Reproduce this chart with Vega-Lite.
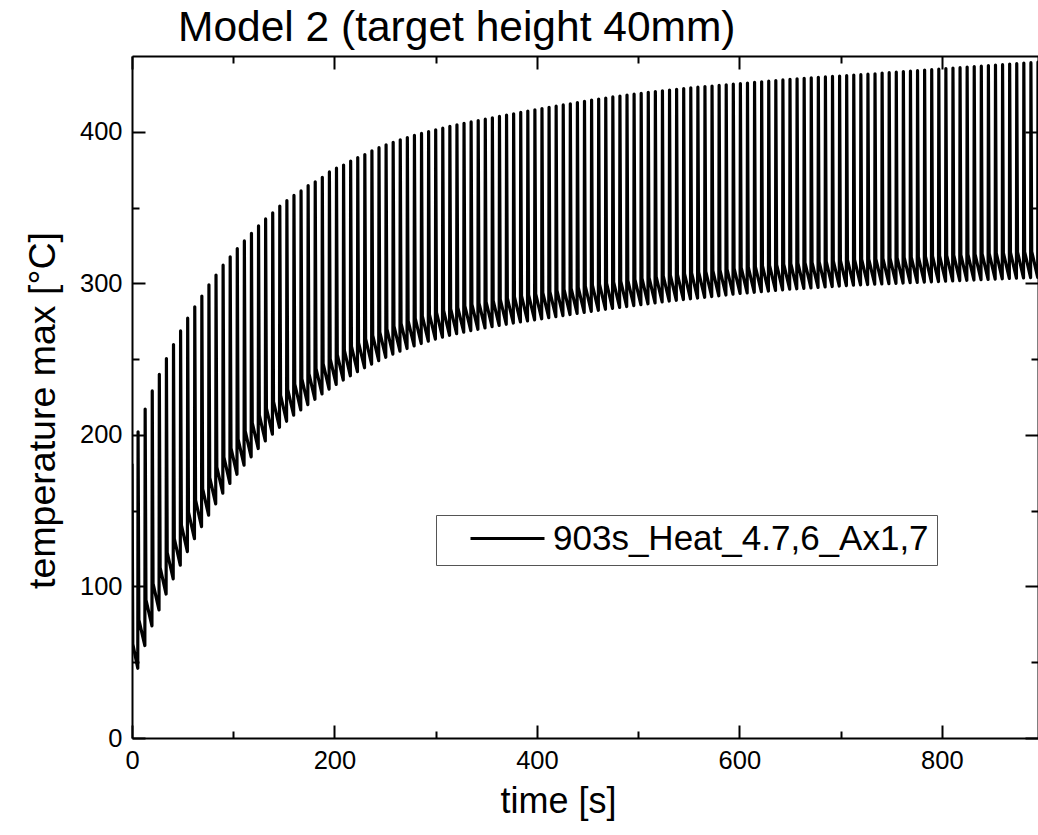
{
"$schema":"https://vega.github.io/schema/vega-lite/v6.json",
"width":906,"height":682,
"autosize":{"type":"none"},
"padding":{"left":132,"top":56,"right":0,"bottom":97},
"background":"white",
"title":{"text":"Model 2 (target height 40mm)","anchor":"start","frame":"group","dx":46,"dy":42,"fontSize":42.5,"font":"Liberation Sans","fontWeight":"normal","color":"black","offset":14,"baseline":"alphabetic"},
"config":{"font":"Liberation Sans","view":{"stroke":null},
"axis":{"grid":false,"domainColor":"black","domainWidth":2,"tickColor":"black","tickWidth":2,"labelColor":"black","titleColor":"black","titleFontWeight":"normal","labelFont":"Liberation Sans","titleFont":"Liberation Sans","labelFlush":false,"labelOverlap":false}},
"data":{"values":[
{"t":0,"v":181},{"t":0.8,"v":62},
{"t":5.7,"v":46},{"t":6,"v":202},{"t":6.8,"v":77.9},
{"t":12.7,"v":61},{"t":13,"v":217},{"t":13.8,"v":91.2},
{"t":19.7,"v":74},{"t":20,"v":229},{"t":20.8,"v":101.8},
{"t":26.7,"v":84.5},{"t":27,"v":240},{"t":27.8,"v":112.4},
{"t":33.7,"v":95},{"t":34,"v":250.4},{"t":34.8,"v":122.4},
{"t":40.7,"v":105},{"t":41,"v":259.6},{"t":41.8,"v":131.5},
{"t":47.7,"v":114},{"t":48,"v":268.6},{"t":48.8,"v":140.5},
{"t":54.7,"v":123},{"t":55,"v":277},{"t":55.8,"v":149},
{"t":61.7,"v":131.5},{"t":62,"v":284.5},{"t":62.8,"v":156.9},
{"t":68.7,"v":139.5},{"t":69,"v":291.6},{"t":69.8,"v":164.4},
{"t":75.7,"v":147},{"t":76,"v":299},{"t":76.8,"v":171.8},
{"t":82.7,"v":154.5},{"t":83,"v":305.5},{"t":83.8,"v":178.8},
{"t":89.7,"v":161.5},{"t":90,"v":312},{"t":90.8,"v":185.3},
{"t":96.7,"v":168},{"t":97,"v":317.5},{"t":97.8,"v":191.2},
{"t":103.7,"v":174},{"t":104,"v":323},{"t":104.8,"v":197.2},
{"t":110.7,"v":180},{"t":111,"v":328},{"t":111.8,"v":202.6},
{"t":117.7,"v":185.5},{"t":118,"v":333},{"t":118.8,"v":208},
{"t":124.7,"v":191},{"t":125,"v":338},{"t":125.8,"v":213},
{"t":131.7,"v":196},{"t":132,"v":342.5},{"t":132.8,"v":217.5},
{"t":138.7,"v":200.5},{"t":139,"v":346.5},{"t":139.8,"v":222},
{"t":145.7,"v":205},{"t":146,"v":351},{"t":146.8,"v":226},
{"t":152.7,"v":209},{"t":153,"v":354.6},{"t":153.8,"v":230},
{"t":159.7,"v":213},{"t":160,"v":358},{"t":160.8,"v":233.5},
{"t":166.7,"v":216.5},{"t":167,"v":361},{"t":167.8,"v":236.9},
{"t":173.7,"v":220},{"t":174,"v":364.5},{"t":174.8,"v":240.4},
{"t":180.7,"v":223.5},{"t":181,"v":367},{"t":181.8,"v":243.8},
{"t":187.7,"v":227},{"t":188,"v":370},{"t":188.8,"v":247},
{"t":194.7,"v":230.2},{"t":195,"v":373.5},{"t":195.8,"v":250.1},
{"t":201.7,"v":233.3},{"t":202,"v":376},{"t":202.8,"v":253},
{"t":208.7,"v":236.2},{"t":209,"v":378},{"t":209.8,"v":255.7},
{"t":215.7,"v":239},{"t":216,"v":380.7},{"t":216.8,"v":258.4},
{"t":222.7,"v":241.7},{"t":223,"v":383},{"t":223.8,"v":260.9},
{"t":229.7,"v":244.3},{"t":230,"v":385},{"t":230.8,"v":263.3},
{"t":236.7,"v":246.7},{"t":237,"v":387.4},{"t":237.8,"v":265.6},
{"t":243.7,"v":249},{"t":244,"v":389.5},{"t":244.8,"v":267.8},
{"t":250.7,"v":251.2},{"t":251,"v":391.4},{"t":251.8,"v":269.9},
{"t":257.7,"v":253.3},{"t":258,"v":393.1},{"t":258.8,"v":271.7},
{"t":264.7,"v":255.2},{"t":265,"v":394.7},{"t":265.8,"v":273.5},
{"t":271.7,"v":257},{"t":272,"v":396.2},{"t":272.8,"v":275.2},
{"t":278.7,"v":258.7},{"t":279,"v":397.6},{"t":279.8,"v":276.8},
{"t":285.7,"v":260.3},{"t":286,"v":398.9},{"t":286.8,"v":278.3},
{"t":292.7,"v":261.8},{"t":293,"v":400.1},{"t":293.8,"v":279.6},
{"t":299.7,"v":263.2},{"t":300,"v":401.3},{"t":300.8,"v":280.9},
{"t":306.7,"v":264.5},{"t":307,"v":402.4},{"t":307.8,"v":282.1},
{"t":313.7,"v":265.7},{"t":314,"v":403.6},{"t":314.8,"v":283.2},
{"t":320.7,"v":266.8},{"t":321,"v":404.6},{"t":321.8,"v":284.2},
{"t":327.7,"v":267.8},{"t":328,"v":405.6},{"t":328.8,"v":285.2},
{"t":334.7,"v":268.8},{"t":335,"v":406.5},{"t":335.8,"v":286.1},
{"t":341.7,"v":269.7},{"t":342,"v":407.4},{"t":342.8,"v":287},
{"t":348.7,"v":270.6},{"t":349,"v":408.3},{"t":349.8,"v":287.8},
{"t":355.7,"v":271.4},{"t":356,"v":409.2},{"t":356.8,"v":288.6},
{"t":362.7,"v":272.2},{"t":363,"v":410.1},{"t":363.8,"v":289.5},
{"t":369.7,"v":273},{"t":370,"v":411},{"t":370.8,"v":290.3},
{"t":376.7,"v":273.8},{"t":377,"v":411.9},{"t":377.8,"v":291},
{"t":383.7,"v":274.5},{"t":384,"v":412.8},{"t":384.8,"v":291.7},
{"t":390.7,"v":275.2},{"t":391,"v":413.7},{"t":391.8,"v":292.4},
{"t":397.7,"v":275.9},{"t":398,"v":414.5},{"t":398.8,"v":293.1},
{"t":404.7,"v":276.6},{"t":405,"v":415.3},{"t":405.8,"v":293.9},
{"t":411.7,"v":277.3},{"t":412,"v":416.1},{"t":412.8,"v":294.6},
{"t":418.7,"v":278},{"t":419,"v":416.9},{"t":419.8,"v":295.3},
{"t":425.7,"v":278.7},{"t":426,"v":417.7},{"t":426.8,"v":296},
{"t":432.7,"v":279.4},{"t":433,"v":418.5},{"t":433.8,"v":296.7},
{"t":439.7,"v":280.1},{"t":440,"v":419.3},{"t":440.8,"v":297.4},
{"t":446.7,"v":280.8},{"t":447,"v":420.1},{"t":447.8,"v":298.1},
{"t":453.7,"v":281.5},{"t":454,"v":420.9},{"t":454.8,"v":298.8},
{"t":460.7,"v":282.2},{"t":461,"v":421.6},{"t":461.8,"v":299.5},
{"t":467.7,"v":282.9},{"t":468,"v":422.3},{"t":468.8,"v":300.2},
{"t":474.7,"v":283.5},{"t":475,"v":423},{"t":475.8,"v":300.8},
{"t":481.7,"v":284.1},{"t":482,"v":423.6},{"t":482.8,"v":301.4},
{"t":488.7,"v":284.7},{"t":489,"v":424.2},{"t":489.8,"v":302},
{"t":495.7,"v":285.3},{"t":496,"v":424.8},{"t":496.8,"v":302.6},
{"t":502.7,"v":285.9},{"t":503,"v":425.4},{"t":503.8,"v":303.2},
{"t":509.7,"v":286.5},{"t":510,"v":426},{"t":510.8,"v":303.8},
{"t":516.7,"v":287.1},{"t":517,"v":426.5},{"t":517.8,"v":304.4},
{"t":523.7,"v":287.7},{"t":524,"v":427},{"t":524.8,"v":304.9},
{"t":530.7,"v":288.3},{"t":531,"v":427.5},{"t":531.8,"v":305.4},
{"t":537.7,"v":288.8},{"t":538,"v":428},{"t":538.8,"v":305.9},
{"t":544.7,"v":289.3},{"t":545,"v":428.5},{"t":545.8,"v":306.4},
{"t":551.7,"v":289.8},{"t":552,"v":429},{"t":552.8,"v":306.9},
{"t":558.7,"v":290.3},{"t":559,"v":429.4},{"t":559.8,"v":307.4},
{"t":565.7,"v":290.8},{"t":566,"v":429.8},{"t":566.8,"v":307.9},
{"t":572.7,"v":291.3},{"t":573,"v":430.2},{"t":573.8,"v":308.4},
{"t":579.7,"v":291.8},{"t":580,"v":430.6},{"t":580.8,"v":308.9},
{"t":586.7,"v":292.3},{"t":587,"v":431},{"t":587.8,"v":309.4},
{"t":593.7,"v":292.8},{"t":594,"v":431.4},{"t":594.8,"v":309.9},
{"t":600.7,"v":293.3},{"t":601,"v":431.8},{"t":601.8,"v":310.3},
{"t":607.7,"v":293.7},{"t":608,"v":432.2},{"t":608.8,"v":310.7},
{"t":614.7,"v":294.1},{"t":615,"v":432.6},{"t":615.8,"v":311.1},
{"t":621.7,"v":294.5},{"t":622,"v":433},{"t":622.8,"v":311.5},
{"t":628.7,"v":294.9},{"t":629,"v":433.4},{"t":629.8,"v":311.9},
{"t":635.7,"v":295.3},{"t":636,"v":433.8},{"t":636.8,"v":312.3},
{"t":642.7,"v":295.7},{"t":643,"v":434.2},{"t":643.8,"v":312.7},
{"t":649.7,"v":296.1},{"t":650,"v":434.6},{"t":650.8,"v":313},
{"t":656.7,"v":296.4},{"t":657,"v":435},{"t":657.8,"v":313.3},
{"t":663.7,"v":296.7},{"t":664,"v":435.3},{"t":664.8,"v":313.6},
{"t":670.7,"v":297},{"t":671,"v":435.6},{"t":671.8,"v":313.9},
{"t":677.7,"v":297.3},{"t":678,"v":435.9},{"t":678.8,"v":314.2},
{"t":684.7,"v":297.6},{"t":685,"v":436.2},{"t":685.8,"v":314.5},
{"t":691.7,"v":297.9},{"t":692,"v":436.5},{"t":692.8,"v":314.8},
{"t":698.7,"v":298.2},{"t":699,"v":436.8},{"t":699.8,"v":315.1},
{"t":705.7,"v":298.5},{"t":706,"v":437.1},{"t":706.8,"v":315.4},
{"t":712.7,"v":298.8},{"t":713,"v":437.4},{"t":713.8,"v":315.6},
{"t":719.7,"v":299},{"t":720,"v":437.7},{"t":720.8,"v":315.8},
{"t":726.7,"v":299.2},{"t":727,"v":438},{"t":727.8,"v":316},
{"t":733.7,"v":299.4},{"t":734,"v":438.3},{"t":734.8,"v":316.2},
{"t":740.7,"v":299.6},{"t":741,"v":438.7},{"t":741.8,"v":316.5},
{"t":747.7,"v":299.8},{"t":748,"v":439},{"t":748.8,"v":316.7},
{"t":754.7,"v":300},{"t":755,"v":439.3},{"t":755.8,"v":316.9},
{"t":761.7,"v":300.2},{"t":762,"v":439.7},{"t":762.8,"v":317.1},
{"t":768.7,"v":300.4},{"t":769,"v":440},{"t":769.8,"v":317.3},
{"t":775.7,"v":300.6},{"t":776,"v":440.3},{"t":776.8,"v":317.5},
{"t":782.7,"v":300.8},{"t":783,"v":440.7},{"t":783.8,"v":317.8},
{"t":789.7,"v":301},{"t":790,"v":441},{"t":790.8,"v":318},
{"t":796.7,"v":301.2},{"t":797,"v":441.3},{"t":797.8,"v":318.2},
{"t":803.7,"v":301.4},{"t":804,"v":441.7},{"t":804.8,"v":318.4},
{"t":810.7,"v":301.6},{"t":811,"v":442},{"t":811.8,"v":318.6},
{"t":817.7,"v":301.8},{"t":818,"v":442.3},{"t":818.8,"v":318.8},
{"t":824.7,"v":302},{"t":825,"v":442.7},{"t":825.8,"v":319.1},
{"t":831.7,"v":302.2},{"t":832,"v":443},{"t":832.8,"v":319.3},
{"t":838.7,"v":302.4},{"t":839,"v":443.3},{"t":839.8,"v":319.5},
{"t":845.7,"v":302.6},{"t":846,"v":443.7},{"t":846.8,"v":319.7},
{"t":852.7,"v":302.8},{"t":853,"v":444},{"t":853.8,"v":319.9},
{"t":859.7,"v":303},{"t":860,"v":444.3},{"t":860.8,"v":320.1},
{"t":866.7,"v":303.2},{"t":867,"v":444.7},{"t":867.8,"v":320.4},
{"t":873.7,"v":303.4},{"t":874,"v":445},{"t":874.8,"v":320.6},
{"t":880.7,"v":303.6},{"t":881,"v":445.3},{"t":881.8,"v":320.8},
{"t":887.7,"v":303.8},{"t":888,"v":445.6},{"t":888.8,"v":321},
{"t":894.7,"v":304},{"t":895,"v":446},{"t":895.8,"v":321.2},
{"t":901.7,"v":304.2}
]},
"layer":[
{"mark":{"type":"line","strokeWidth":3.2,"clip":true,"strokeJoin":"round"},
"encoding":{
"x":{"field":"t","type":"quantitative","sort":null,"scale":{"domain":[0,895],"nice":false,"zero":false},
"axis":{"orient":"bottom","values":[0,100,200,300,400,500,600,700,800],"labelExpr":"datum.value % 200 === 0 ? datum.label : ''","tickSize":{"condition":{"test":"datum.value % 200 === 0","value":-13},"value":-7},"title":"time [s]","labelFontSize":25.5,"titleFontSize":36,"labelPadding":23,"titlePadding":5,"titleX":426}},
"y":{"field":"v","type":"quantitative","scale":{"domain":[0,450],"nice":false},
"axis":{"orient":"left","values":[0,50,100,150,200,250,300,350,400],"labelExpr":"datum.value % 100 === 0 ? datum.label : ''","tickSize":{"condition":{"test":"datum.value % 100 === 0","value":-13},"value":-7},"title":"temperature max [°C]","labelFontSize":25.5,"titleFontSize":37.5,"labelPadding":23,"titlePadding":17,"titleY":354}},
"color":{"datum":"903s_Heat_4.7,6_Ax1,7","type":"nominal","scale":{"range":["black"]},
"legend":{"title":null,"orient":"none","legendX":304,"legendY":459,"symbolType":"stroke","symbolSize":5476,"symbolStrokeWidth":3,"symbolStrokeColor":"black","clipHeight":31,"padding":8,"symbolOffset":25,"labelOffset":7,"labelFontSize":35,"labelFont":"Liberation Sans","labelColor":"black","strokeColor":"#555555","fillColor":"white","labelLimit":0}}
}},
{"mark":{"type":"line","opacity":0,"clip":true},
"encoding":{
"x":{"field":"t","type":"quantitative","sort":null,
"axis":{"orient":"top","values":[0,100,200,300,400,500,600,700,800],"labels":false,"tickSize":{"condition":{"test":"datum.value % 200 === 0","value":-13},"value":-7},"title":null}},
"y":{"field":"v","type":"quantitative",
"axis":{"orient":"right","values":[0,50,100,150,200,250,300,350,400],"labels":false,"tickSize":{"condition":{"test":"datum.value % 100 === 0","value":-13},"value":-7},"title":null}}
}}
],
"resolve":{"axis":{"x":"independent","y":"independent"}}
}
